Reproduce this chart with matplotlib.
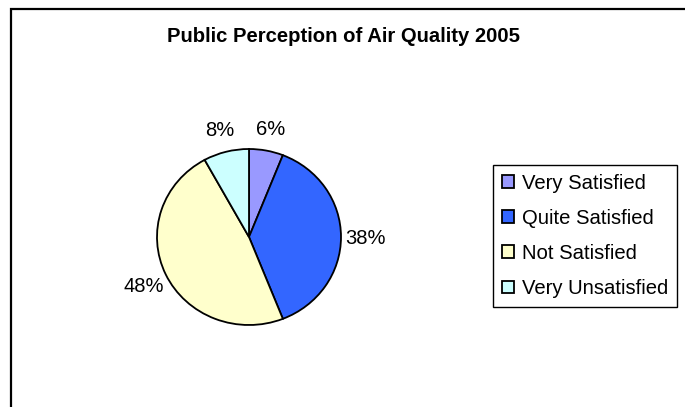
import matplotlib
matplotlib.use('Agg')
import matplotlib.pyplot as plt
from matplotlib.patches import Rectangle

# ---- data ----
title = 'Public Perception of Air Quality 2005'
categories = ['Very Satisfied', 'Quite Satisfied', 'Not Satisfied', 'Very Unsatisfied']
values = [6, 38, 48, 8]
colors = ['#9999FF', '#3366FF', '#FFFFCC', '#CCFFFF']

plt.rcParams['font.family'] = ['Liberation Sans', 'DejaVu Sans']

W, H = 685, 407
fig = plt.figure(figsize=(W / 100, H / 100), dpi=100)
fig.patch.set_facecolor('white')

# outer chart frame (only top and left edges visible)
fig.add_artist(Rectangle((11 / W, -0.1), 1.2, (1 - 9 / H) + 0.1,
                         transform=fig.transFigure, fill=False,
                         edgecolor='black', linewidth=1.6))

# title
fig.text(343.5 / W, 1 - 42 / H, title, ha='center', va='baseline',
         fontsize=14.6, fontweight='bold')

# pie axes (slightly elliptical like the original)
cx, cy, rx, ry, L = 249, 237, 92, 88, 1.5
ax = fig.add_axes([(cx - L * rx) / W, (H - cy - L * ry) / H,
                   2 * L * rx / W, 2 * L * ry / H])
wedges, texts, autotexts = ax.pie(
    values, colors=colors, startangle=90, counterclock=False,
    autopct='%1.0f%%', pctdistance=1.27,
    wedgeprops=dict(edgecolor='black', linewidth=1.3),
    textprops=dict(fontsize=14.5))
for t in autotexts:
    t.set_verticalalignment('center_baseline')
ax.set_xlim(-L, L)
ax.set_ylim(-L, L)
ax.set_aspect('auto')
ax.axis('off')

leg = fig.legend(wedges, categories, loc='upper left',
                 bbox_to_anchor=(493 / W, 1 - 165 / H),
                 bbox_transform=fig.transFigure, borderaxespad=0,
                 frameon=True, fancybox=False, edgecolor='black',
                 framealpha=1, fontsize=14.6, handlelength=0.6,
                 handleheight=0.6, handletextpad=0.4, labelspacing=0.8,
                 borderpad=0.42)
leg.get_frame().set_linewidth(1.0)

fig.savefig('out.png', dpi=100, facecolor='white')
